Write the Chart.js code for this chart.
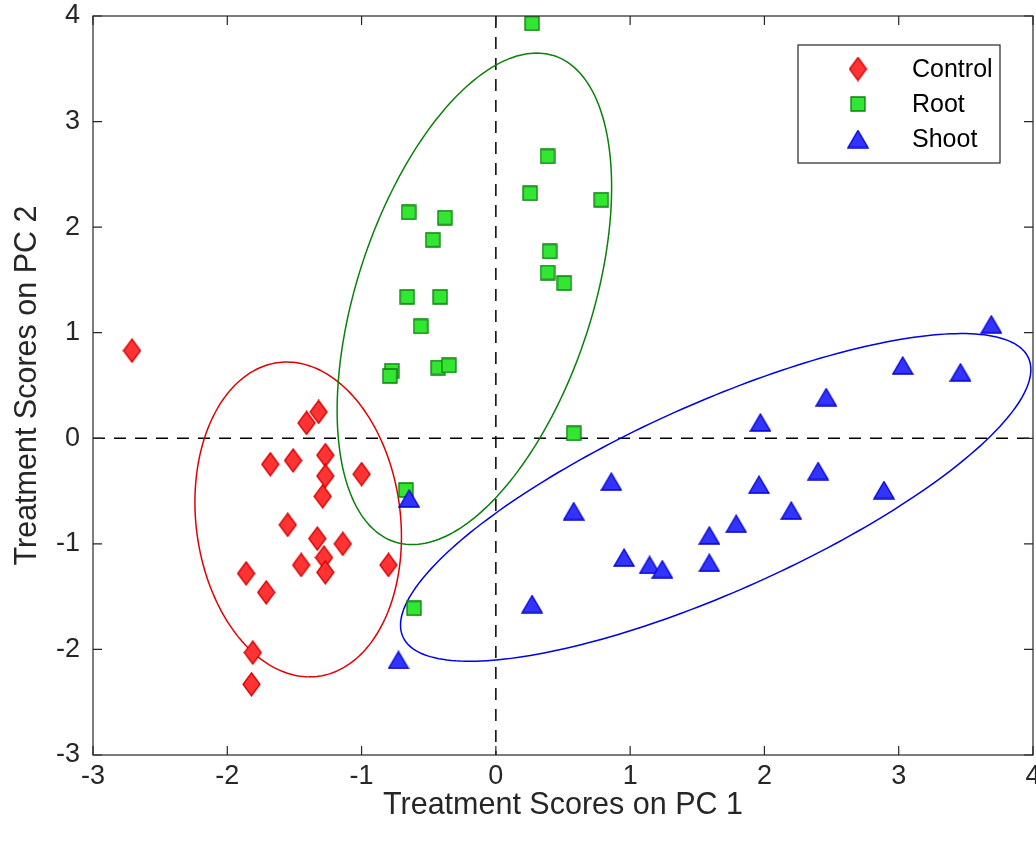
<!DOCTYPE html>
<html>
<head>
<meta charset="utf-8">
<title>Treatment scores on PC 1 / PC 2</title>
<script src="https://cdn.jsdelivr.net/npm/chart.js@4.4.1/dist/chart.umd.min.js"></script>
<style>
  html, body { margin: 0; padding: 0; background: #fff; }
  #wrap { width: 1036px; height: 841px; }
</style>
</head>
<body>
<div id="wrap"><canvas id="chart"></canvas></div>
<script>
"use strict";

///////////////////////////////////////
// Data

const controlX = [-2.71, -1.32, -1.41, -1.68, -1.51, -1.27, -1.27, -1.0, -1.29, -1.55,
  -1.33, -1.14, -1.28, -1.45, -1.27, -0.80, -1.86, -1.71, -1.81, -1.82];
const controlY = [0.83, 0.25, 0.145, -0.246, -0.21, -0.16, -0.357, -0.34, -0.55, -0.82,
  -0.95, -1.0, -1.13, -1.20, -1.27, -1.20, -1.28, -1.46, -2.03, -2.33];

const rootX = [0.27, 0.385, 0.255, 0.785, -0.65, -0.38, -0.47, 0.40, 0.385, 0.51,
  -0.66, -0.415, -0.56, -0.775, -0.79, -0.43, -0.35, 0.58, -0.67, -0.61];
const rootY = [3.93, 2.67, 2.32, 2.26, 2.14, 2.09, 1.88, 1.77, 1.57, 1.47,
  1.34, 1.34, 1.06, 0.64, 0.59, 0.67, 0.69, 0.047, -0.49, -1.61];

const shootX = [-0.645, -0.725, 0.27, 0.86, 0.58, 0.955, 1.145, 1.24, 1.59, 1.59,
  3.69, 3.03, 3.46, 2.46, 1.97, 2.40, 1.96, 2.89, 2.20, 1.79];
const shootY = [-0.57, -2.10, -1.57, -0.41, -0.69, -1.13, -1.20, -1.24, -0.92, -1.18,
  1.08, 0.69, 0.625, 0.39, 0.15, -0.31, -0.44, -0.49, -0.685, -0.81];

// group ellipses: centre x, centre y, half width (x), half height (y), correlation
const controlEllipse = [-1.472, -0.769, 0.769, 1.491, -0.11];
const rootEllipse = [-0.160, 1.321, 1.022, 2.328, 0.454];
const shootEllipse = [1.637, -0.560, 2.347, 1.552, 0.78];

const xLimits = [-3, 4];
const yLimits = [-3, 4];
const xTitle = "Treatment Scores on PC 1";
const yTitle = "Treatment Scores on PC 2";

///////////////////////////////////////
// Markers

const font = "'Liberation Sans', Arial, Helvetica, sans-serif";
const axisColor = "#262626";

const makeMarker = function (w, h, fill, stroke, path) {
  const c = document.createElement("canvas");
  c.width = w;
  c.height = h;
  const ctx = c.getContext("2d");
  ctx.beginPath();
  path(ctx, w, h);
  ctx.closePath();
  ctx.fillStyle = fill;
  ctx.fill();
  ctx.lineWidth = 1.3;
  ctx.strokeStyle = stroke;
  ctx.stroke();
  return c;
};

const diamond = makeMarker(19, 25, "#ff3333", "#d40000", function (ctx, w, h) {
  ctx.moveTo(w / 2, 1);
  ctx.lineTo(w - 1, h / 2);
  ctx.lineTo(w / 2, h - 1);
  ctx.lineTo(1, h / 2);
});
const square = makeMarker(16, 16, "#33e633", "#0a800a", function (ctx, w, h) {
  ctx.rect(1, 1, w - 2, h - 2);
});
const triangle = makeMarker(22, 19, "#3333ff", "#0000d0", function (ctx, w, h) {
  ctx.moveTo(w / 2, 1);
  ctx.lineTo(w - 1, h - 1);
  ctx.lineTo(1, h - 1);
});

const toPoints = function (xs, ys) {
  return xs.map((x, i) => ({ x: x, y: ys[i] }));
};

///////////////////////////////////////
// Plugins: zero lines, ellipses, box with inward ticks, legend

const drawEllipse = function (chart, params, color) {
  const [cx, cy, ax, by, r] = params;
  const phi = Math.acos(r);
  const sx = chart.scales.x;
  const sy = chart.scales.y;
  const ctx = chart.ctx;
  ctx.save();
  ctx.beginPath();
  for (let i = 0; i <= 240; i++) {
    const t = (i / 240) * 2 * Math.PI;
    const px = sx.getPixelForValue(cx + ax * Math.cos(t));
    const py = sy.getPixelForValue(cy + by * Math.cos(t - phi));
    if (i === 0) ctx.moveTo(px, py);
    else ctx.lineTo(px, py);
  }
  ctx.closePath();
  ctx.lineWidth = 1.5;
  ctx.strokeStyle = color;
  ctx.stroke();
  ctx.restore();
};

const decorPlugin = {
  id: "decor",
  beforeDatasetsDraw(chart) {
    const { ctx, chartArea: a, scales } = chart;
    const x0 = scales.x.getPixelForValue(0);
    const y0 = scales.y.getPixelForValue(0);

    ctx.save();
    ctx.strokeStyle = "#000";
    ctx.lineWidth = 1.5;
    ctx.setLineDash([12, 9]);
    ctx.beginPath();
    ctx.moveTo(a.left, y0);
    ctx.lineTo(a.right, y0);
    ctx.moveTo(x0, a.top);
    ctx.lineTo(x0, a.bottom);
    ctx.stroke();
    ctx.restore();

    drawEllipse(chart, controlEllipse, "#e00000");
    drawEllipse(chart, rootEllipse, "#0a800a");
    drawEllipse(chart, shootEllipse, "#0000e6");
  },
  afterDatasetsDraw(chart) {
    const { ctx, chartArea: a, scales } = chart;
    const tick = 9;

    ctx.save();
    ctx.strokeStyle = axisColor;
    ctx.lineWidth = 1.2;
    ctx.strokeRect(a.left, a.top, a.right - a.left, a.bottom - a.top);
    ctx.beginPath();
    scales.x.ticks.forEach(function (t) {
      const px = scales.x.getPixelForValue(t.value);
      ctx.moveTo(px, a.bottom);
      ctx.lineTo(px, a.bottom - tick);
      ctx.moveTo(px, a.top);
      ctx.lineTo(px, a.top + tick);
    });
    scales.y.ticks.forEach(function (t) {
      const py = scales.y.getPixelForValue(t.value);
      ctx.moveTo(a.left, py);
      ctx.lineTo(a.left + tick, py);
      ctx.moveTo(a.right, py);
      ctx.lineTo(a.right - tick, py);
    });
    ctx.stroke();

    // legend
    const boxW = 202;
    const boxH = 118;
    const bx = a.right - 33 - boxW;
    const by = a.top + 29;
    ctx.fillStyle = "#fff";
    ctx.fillRect(bx, by, boxW, boxH);
    ctx.strokeStyle = axisColor;
    ctx.lineWidth = 1.2;
    ctx.strokeRect(bx, by, boxW, boxH);

    ctx.font = "25px " + font;
    ctx.textBaseline = "middle";
    ctx.textAlign = "left";
    ctx.fillStyle = "#000";
    chart.data.datasets.forEach(function (ds, i) {
      const cy = by + 24 + i * 35;
      const m = ds.pointStyle;
      ctx.drawImage(m, bx + 60 - m.width / 2, cy - m.height / 2);
      ctx.fillText(ds.label, bx + 114, cy + 1);
    });
    ctx.restore();
  },
};

///////////////////////////////////////
// Chart

const fitAxis = function (scale) {
  if (scale.isHorizontal()) scale.height = 86;
  else scale.width = 93;
  scale.paddingLeft = 0;
  scale.paddingRight = 0;
  scale.paddingTop = 0;
  scale.paddingBottom = 0;
};

const config = {
  type: "scatter",
  data: {
    datasets: [
      {
        label: "Control",
        data: toPoints(controlX, controlY),
        pointStyle: diamond,
        pointRadius: 10,
        order: 3,
      },
      {
        label: "Root",
        data: toPoints(rootX, rootY),
        pointStyle: square,
        pointRadius: 10,
        order: 2,
      },
      {
        label: "Shoot",
        data: toPoints(shootX, shootY),
        pointStyle: triangle,
        pointRadius: 10,
        order: 1,
      },
    ],
  },
  options: {
    responsive: true,
    maintainAspectRatio: false,
    animation: false,
    events: [],
    layout: { autoPadding: false, padding: { top: 16, right: 3, left: 0, bottom: 0 } },
    plugins: {
      legend: { display: false },
      tooltip: { enabled: false },
    },
    scales: {
      x: {
        type: "linear",
        min: xLimits[0],
        max: xLimits[1],
        grid: { display: false, drawTicks: false },
        border: { display: false },
        ticks: {
          stepSize: 1,
          padding: 5,
          color: axisColor,
          font: { family: font, size: 27 },
        },
        title: {
          display: true,
          text: xTitle,
          color: axisColor,
          padding: { top: 0, bottom: 20 },
          font: { family: font, size: 30.5, lineHeight: 1 },
        },
        afterFit: fitAxis,
      },
      y: {
        type: "linear",
        min: yLimits[0],
        max: yLimits[1],
        grid: { display: false, drawTicks: false },
        border: { display: false },
        ticks: {
          stepSize: 1,
          padding: 13,
          color: axisColor,
          font: { family: font, size: 27 },
        },
        title: {
          display: true,
          text: yTitle,
          color: axisColor,
          padding: { top: 12, bottom: 0 },
          font: { family: font, size: 30.5, lineHeight: 1 },
        },
        afterFit: fitAxis,
      },
    },
  },
  plugins: [decorPlugin],
};

const chart = new Chart(document.getElementById("chart"), config);
</script>
</body>
</html>
